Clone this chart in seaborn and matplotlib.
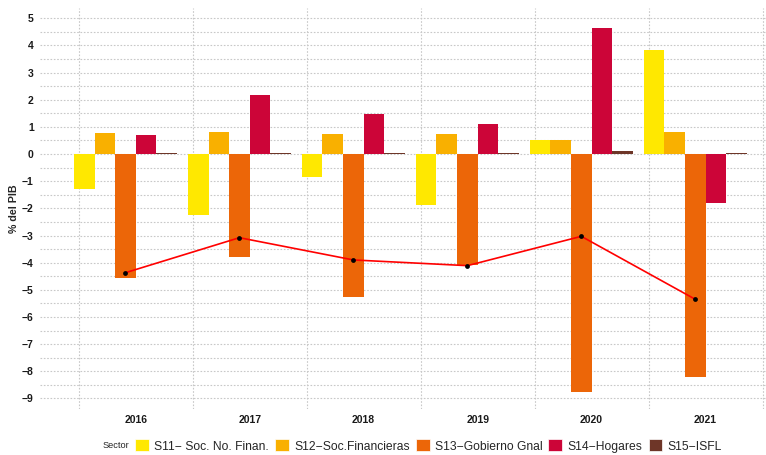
import numpy as np
import pandas as pd
import matplotlib
matplotlib.use("Agg")
import matplotlib.pyplot as plt
from matplotlib.patches import Patch
from matplotlib.ticker import MultipleLocator
import seaborn as sns

years = ["2016", "2017", "2018", "2019", "2020", "2021"]
sectors = ["S11\u2212 Soc. No. Finan.", "S12\u2212Soc.Financieras", "S13\u2212Gobierno Gnal",
           "S14\u2212Hogares", "S15\u2212ISFL"]
s11 = [-1.29, -2.24, -0.86, -1.89, 0.50, 3.85]
s12 = [0.76, 0.80, 0.73, 0.73, 0.50, 0.80]
s13 = [-4.56, -3.79, -5.27, -4.08, -8.76, -8.20]
s14 = [0.72, 2.16, 1.46, 1.09, 4.63, -1.80]
s15 = [0.03, 0.03, 0.03, 0.03, 0.10, 0.03]
total = [-4.37, -3.08, -3.90, -4.11, -3.03, -5.35]
colors = ["#FFE800", "#F9B000", "#EC6608", "#CC0538", "#6E3628"]

sns.set_theme(style="white")
plt.rcParams["font.family"] = ["Liberation Sans", "DejaVu Sans"]

rows = []
for name, vals in zip(sectors, [s11, s12, s13, s14, s15]):
    for y, v in zip(years, vals):
        rows.append({"Year": y, "Sector": name, "Valor": v})
dummy = "_empty"
for y in years:
    rows.append({"Year": y, "Sector": dummy, "Valor": np.nan})
df = pd.DataFrame(rows)

fig = plt.figure(figsize=(7.66, 4.55), dpi=100)
ax = fig.add_axes([40 / 766, 1 - 409 / 455, 726 / 766, (409 - 8) / 455])

hue_order = sectors + [dummy]
palette = dict(zip(hue_order, colors + ["#FFFFFF"]))
nslots = len(hue_order)
total_w = 1.084
sns.barplot(data=df, x="Year", y="Valor", hue="Sector", hue_order=hue_order,
            palette=palette, width=total_w, dodge=True, errorbar=None,
            saturation=1, linewidth=0, legend=False, ax=ax, zorder=2)

slot_w = total_w / nslots
offset = (2 - (nslots - 1) / 2) * slot_w
xline = np.arange(len(years)) + offset
sns.lineplot(x=xline, y=total, color="#FF0000", linewidth=1.2, ax=ax, zorder=3,
             sort=False, estimator=None)
sns.scatterplot(x=xline, y=total, color="black", s=12, linewidth=0, ax=ax, zorder=4)

ax.set_xlim(-0.84, 5.53)
ax.set_ylim(-9.39, 5.38)
ax.yaxis.set_major_locator(MultipleLocator(1))
ax.yaxis.set_minor_locator(MultipleLocator(0.5))
ax.set_xticks(np.arange(len(years)))
ax.set_xticklabels(years)
ax.set_xticks(np.arange(len(years) + 1) - 0.5, minor=True)

for s in ax.spines.values():
    s.set_visible(False)
ax.grid(True, which="both", axis="both", color="#C8C8C8", linestyle=(0, (1.5, 1.5)),
        linewidth=0.8, zorder=0)
ax.grid(False, which="major", axis="x")
ax.set_axisbelow(True)
ax.tick_params(axis="both", which="major", length=2.5, width=0.6, color="#555555",
               labelsize=7.5, pad=2)
ax.tick_params(axis="both", which="minor", length=0)
for lab in ax.get_xticklabels() + ax.get_yticklabels():
    lab.set_fontweight("bold")
    lab.set_color("#1a1a1a")
ax.set_xlabel("")
ax.set_ylabel("% del PIB", fontsize=7.7, fontweight="bold")
ax.yaxis.set_label_coords(-0.029, 0.5)

handles = [Patch(facecolor=c, edgecolor="white", linewidth=0.5) for c in colors]
leg = fig.legend(handles, sectors, loc="center left", bbox_to_anchor=(135 / 766, 1 - 446 / 455),
                 ncol=5, frameon=False, fontsize=8.75, handlelength=1.15, handleheight=1.15,
                 handletextpad=0.42, columnspacing=0.5, borderpad=0, borderaxespad=0)
fig.text(103 / 766, 1 - 446 / 455, "Sector", fontsize=6.7, va="center", ha="left")

fig.savefig("out.png", dpi=100)
